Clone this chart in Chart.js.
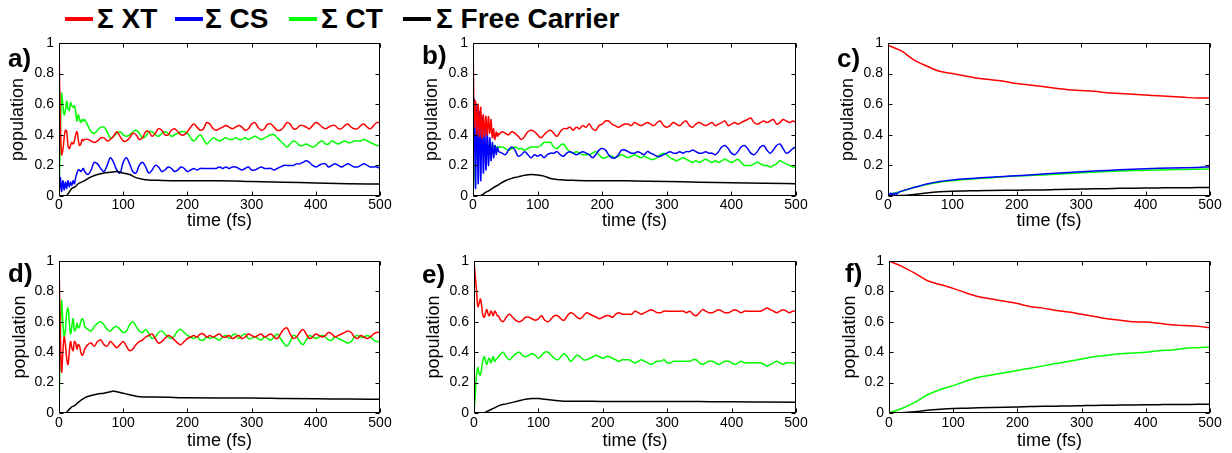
<!DOCTYPE html>
<html>
<head>
<meta charset="utf-8">
<script src="https://cdn.jsdelivr.net/npm/chart.js@4.4.1/dist/chart.umd.min.js"></script>
<style>
  html, body { margin: 0; padding: 0; background: #fff; }
  body { width: 1232px; height: 453px; position: relative; overflow: hidden;
         font-family: "Liberation Sans", Arial, Helvetica, sans-serif; }
  canvas { position: absolute; }
  .key-line { position: absolute; height: 4px; }
  .key-text { position: absolute; font-weight: bold; font-size: 28px; line-height: 28px;
              color: #000; white-space: nowrap; }
  .panel-tag { position: absolute; font-weight: bold; font-size: 26px; line-height: 26px; color: #000; }
</style>
</head>
<body>
<script>
// ---------------- series names / colours ----------------
const seriesNames  = ['\u03A3 XT', '\u03A3 CS', '\u03A3 CT', '\u03A3 Free Carrier'];
const seriesColors = ['#ff0000', '#0000ff', '#00ff00', '#000000'];

// ---------------- axis ticks ----------------
const timeTicks = [0, 100, 200, 300, 400, 500];
const popTicks  = [0, 0.2, 0.4, 0.6, 0.8, 1];

// ---------------- time grids (fs) ----------------
const timeA = [
  0,2,4,6,8,10,12,14,16,18,20,
  22,24,26,28,30,32,34,36,38,40,
  45,50,55,60,65,70,75,80,85,90,
  95,100,105,110,115,120,125,130,135,140,
  145,150,155,160,165,170,175,180,185,190,
  195,200,205,210,215,220,225,230,235,240,
  245,250,255,260,265,270,275,280,285,290,
  295,300,305,310,315,320,325,330,335,340,
  345,350,355,360,365,370,375,380,385,390,
  395,400,405,410,415,420,425,430,435,440,
  445,450,455,460,465,470,475,480,485,490,
  495,500];

const timeB = [
  0,1,2,3,4,5,6,7,8,9,10,
  11,12,13,14,15,16,17,18,19,20,
  21,22,23,24,25,26,27,28,29,30,
  31,32,33,34,35,36,37,38,39,40,
  45,50,55,60,65,70,75,80,85,90,
  95,100,105,110,115,120,125,130,135,140,
  145,150,155,160,165,170,175,180,185,190,
  195,200,205,210,215,220,225,230,235,240,
  245,250,255,260,265,270,275,280,285,290,
  295,300,305,310,315,320,325,330,335,340,
  345,350,355,360,365,370,375,380,385,390,
  395,400,405,410,415,420,425,430,435,440,
  445,450,455,460,465,470,475,480,485,490,
  495,500];

const timeC = [0,20,40,60,80,100,120,140,160,180,200,220,240,260,280,300,320,340,360,380,400,420,440,460,480,500];

// ---------------- panel a ----------------
const xtA = [
  1.0,0.5,0.27,0.30,0.38,0.43,0.42,0.33,0.31,0.33,0.35,
  0.34,0.36,0.40,0.42,0.37,0.33,0.34,0.37,0.36,0.37,
  0.37,0.36,0.35,0.36,0.38,0.38,0.36,0.37,0.39,0.42,
  0.39,0.36,0.36,0.38,0.41,0.40,0.37,0.38,0.42,0.42,
  0.39,0.41,0.44,0.43,0.40,0.40,0.43,0.44,0.42,0.40,
  0.40,0.42,0.45,0.47,0.45,0.43,0.44,0.48,0.47,0.44,
  0.43,0.44,0.45,0.46,0.45,0.44,0.45,0.46,0.45,0.43,
  0.44,0.47,0.48,0.45,0.43,0.44,0.47,0.47,0.45,0.43,
  0.43,0.45,0.48,0.47,0.44,0.44,0.46,0.46,0.45,0.44,
  0.46,0.48,0.47,0.45,0.44,0.45,0.46,0.46,0.44,0.44,
  0.46,0.47,0.45,0.44,0.44,0.46,0.47,0.45,0.44,0.46,
  0.48,0.48];
const csA = [
  0.0,0.12,0.03,0.10,0.04,0.09,0.05,0.10,0.06,0.09,0.07,
  0.10,0.08,0.12,0.15,0.17,0.17,0.16,0.17,0.18,0.16,
  0.14,0.17,0.22,0.21,0.18,0.16,0.20,0.25,0.22,0.17,
  0.15,0.22,0.25,0.21,0.16,0.15,0.20,0.22,0.19,0.15,
  0.17,0.20,0.19,0.16,0.17,0.19,0.18,0.16,0.17,0.19,
  0.18,0.16,0.17,0.18,0.17,0.18,0.18,0.18,0.18,0.18,
  0.18,0.19,0.18,0.19,0.18,0.19,0.19,0.18,0.17,0.18,
  0.19,0.17,0.17,0.18,0.19,0.18,0.18,0.18,0.17,0.18,
  0.19,0.20,0.20,0.20,0.20,0.21,0.21,0.22,0.23,0.22,
  0.20,0.19,0.20,0.21,0.21,0.19,0.20,0.21,0.20,0.19,
  0.20,0.21,0.20,0.19,0.19,0.20,0.21,0.20,0.19,0.19,
  0.19,0.18];
const ctA = [
  0.0,0.35,0.67,0.60,0.53,0.56,0.62,0.57,0.56,0.61,0.59,
  0.58,0.59,0.55,0.49,0.53,0.50,0.48,0.50,0.49,0.50,
  0.46,0.42,0.41,0.43,0.45,0.45,0.42,0.38,0.39,0.41,
  0.42,0.40,0.39,0.40,0.42,0.43,0.41,0.38,0.39,0.42,
  0.42,0.40,0.39,0.41,0.42,0.41,0.39,0.40,0.41,0.42,
  0.42,0.41,0.38,0.36,0.38,0.40,0.37,0.34,0.36,0.38,
  0.37,0.36,0.37,0.38,0.37,0.37,0.38,0.37,0.37,0.38,
  0.37,0.38,0.39,0.38,0.37,0.38,0.39,0.40,0.40,0.38,
  0.36,0.34,0.32,0.34,0.36,0.35,0.33,0.33,0.34,0.33,
  0.32,0.33,0.35,0.36,0.34,0.34,0.36,0.35,0.34,0.35,
  0.36,0.35,0.35,0.36,0.36,0.36,0.37,0.36,0.35,0.34,
  0.33,0.33];
const fcTimeA = [0,10,15,20,25,30,40,50,60,70,80,90,100,110,120,130,140,150,175,200,250,300,350,400,450,500];
const fcA     = [0,0,0.02,0.05,0.06,0.08,0.10,0.125,0.14,0.15,0.155,0.16,0.15,0.14,0.12,0.11,0.105,0.103,0.10,0.10,0.10,0.095,0.09,0.085,0.08,0.078];

// ---------------- panel b ----------------
const xtB = [
  1.0,0.70,0.45,0.55,0.62,0.50,0.40,0.52,0.60,0.48,0.39,
  0.50,0.58,0.46,0.38,0.48,0.53,0.44,0.39,0.47,0.52,
  0.44,0.40,0.47,0.52,0.45,0.41,0.46,0.50,0.43,0.38,
  0.42,0.44,0.39,0.37,0.40,0.42,0.40,0.39,0.41,0.40,
  0.42,0.41,0.40,0.42,0.41,0.39,0.37,0.39,0.42,0.43,
  0.42,0.40,0.38,0.40,0.42,0.43,0.41,0.39,0.42,0.44,
  0.44,0.45,0.43,0.45,0.44,0.46,0.45,0.47,0.44,0.43,
  0.46,0.47,0.49,0.49,0.47,0.46,0.45,0.46,0.47,0.47,
  0.46,0.48,0.47,0.46,0.47,0.48,0.47,0.46,0.48,0.49,
  0.46,0.45,0.46,0.48,0.47,0.46,0.48,0.49,0.46,0.45,
  0.47,0.48,0.47,0.46,0.47,0.48,0.46,0.47,0.48,0.49,
  0.46,0.47,0.48,0.47,0.48,0.49,0.50,0.51,0.48,0.47,
  0.48,0.49,0.48,0.49,0.50,0.47,0.48,0.50,0.49,0.48,
  0.49,0.48];
const csB = [
  0.0,0.45,0.63,0.30,0.05,0.35,0.60,0.35,0.08,0.30,0.55,
  0.35,0.10,0.30,0.52,0.35,0.15,0.28,0.46,0.33,0.17,
  0.28,0.42,0.32,0.20,0.28,0.38,0.31,0.23,0.29,0.35,
  0.30,0.25,0.29,0.33,0.30,0.27,0.30,0.32,0.30,0.29,
  0.28,0.27,0.30,0.32,0.30,0.26,0.27,0.29,0.27,0.25,
  0.27,0.26,0.27,0.25,0.27,0.28,0.28,0.29,0.27,0.26,
  0.28,0.29,0.28,0.27,0.28,0.29,0.28,0.27,0.25,0.27,
  0.30,0.31,0.30,0.27,0.25,0.25,0.27,0.30,0.30,0.29,
  0.28,0.28,0.29,0.28,0.27,0.29,0.28,0.27,0.26,0.26,
  0.27,0.28,0.29,0.28,0.28,0.29,0.28,0.29,0.29,0.30,
  0.29,0.28,0.28,0.29,0.28,0.28,0.27,0.29,0.32,0.33,
  0.31,0.28,0.27,0.29,0.32,0.33,0.31,0.28,0.27,0.29,
  0.32,0.33,0.30,0.28,0.30,0.33,0.34,0.31,0.28,0.29,
  0.31,0.32];
const ctB = [
  0.0,0.08,0.15,0.20,0.24,0.27,0.29,0.30,0.31,0.31,0.32,
  0.32,0.32,0.33,0.32,0.33,0.33,0.32,0.33,0.33,0.32,
  0.33,0.32,0.33,0.33,0.32,0.33,0.33,0.32,0.33,0.33,
  0.32,0.33,0.33,0.32,0.31,0.32,0.32,0.31,0.32,0.32,
  0.32,0.31,0.30,0.31,0.32,0.31,0.31,0.30,0.31,0.32,
  0.32,0.32,0.33,0.35,0.35,0.35,0.32,0.31,0.33,0.34,
  0.31,0.29,0.28,0.29,0.28,0.27,0.27,0.27,0.28,0.29,
  0.27,0.25,0.25,0.26,0.26,0.25,0.26,0.27,0.26,0.25,
  0.26,0.27,0.26,0.25,0.26,0.25,0.24,0.24,0.25,0.27,
  0.28,0.27,0.25,0.24,0.23,0.24,0.25,0.24,0.23,0.22,
  0.23,0.22,0.23,0.24,0.23,0.22,0.23,0.22,0.23,0.24,
  0.23,0.22,0.23,0.24,0.22,0.20,0.20,0.20,0.21,0.22,
  0.21,0.20,0.20,0.19,0.20,0.21,0.23,0.22,0.21,0.20,
  0.19,0.19];
const fcTimeB = [0,10,15,20,25,30,40,50,60,70,80,90,100,110,120,130,140,150,175,200,225,250,300,350,400,450,500];
const fcB     = [0,0,0.01,0.025,0.035,0.05,0.075,0.10,0.115,0.125,0.135,0.14,0.138,0.13,0.115,0.108,0.105,0.103,0.10,0.10,0.10,0.098,0.095,0.09,0.087,0.083,0.08];

// ---------------- panel c ----------------
const xtC = [0.985,0.95,0.89,0.85,0.815,0.80,0.785,0.77,0.76,0.75,0.735,0.725,0.715,0.705,0.695,0.69,0.685,0.675,0.67,0.665,0.66,0.655,0.65,0.645,0.64,0.64];
const csTimeC = [0,2,4,6,8,10,12,14,16,20,40,60,80,100,120,140,160,180,200,240,280,320,360,400,440,480,500];
const csC     = [0.02,0.005,0.02,0.006,0.018,0.008,0.02,0.012,0.022,0.03,0.055,0.078,0.095,0.105,0.112,0.118,0.123,0.128,0.133,0.143,0.153,0.163,0.171,0.178,0.183,0.187,0.19];
const ctC = [0.01,0.03,0.055,0.075,0.09,0.10,0.108,0.115,0.12,0.125,0.13,0.134,0.138,0.142,0.147,0.152,0.156,0.16,0.163,0.166,0.168,0.17,0.172,0.174,0.175,0.176];
const fcC = [0,0.003,0.01,0.02,0.027,0.031,0.033,0.035,0.036,0.037,0.038,0.039,0.04,0.042,0.044,0.045,0.047,0.048,0.05,0.051,0.052,0.053,0.054,0.054,0.055,0.055];

// ---------------- panel d ----------------
const xtD = [
  1.0,0.55,0.27,0.40,0.50,0.45,0.36,0.32,0.40,0.47,0.43,
  0.41,0.47,0.46,0.42,0.45,0.44,0.40,0.38,0.39,0.42,
  0.45,0.46,0.44,0.47,0.48,0.45,0.44,0.47,0.45,0.43,
  0.45,0.47,0.44,0.41,0.42,0.45,0.47,0.48,0.50,0.51,
  0.52,0.49,0.46,0.47,0.49,0.51,0.50,0.48,0.46,0.45,
  0.47,0.49,0.50,0.51,0.50,0.52,0.52,0.50,0.51,0.50,
  0.51,0.52,0.50,0.50,0.51,0.49,0.50,0.51,0.49,0.50,
  0.52,0.51,0.50,0.51,0.52,0.50,0.51,0.52,0.50,0.49,
  0.52,0.55,0.56,0.52,0.49,0.50,0.53,0.55,0.52,0.49,
  0.50,0.52,0.51,0.50,0.51,0.53,0.52,0.50,0.51,0.52,
  0.53,0.54,0.53,0.50,0.49,0.51,0.50,0.49,0.50,0.52,
  0.53,0.53];
const ctD = [
  0.0,0.45,0.74,0.60,0.50,0.55,0.66,0.69,0.60,0.52,0.57,
  0.62,0.54,0.55,0.59,0.56,0.57,0.60,0.62,0.61,0.57,
  0.55,0.54,0.57,0.59,0.60,0.58,0.55,0.54,0.56,0.57,
  0.55,0.53,0.54,0.58,0.60,0.57,0.54,0.53,0.55,0.52,
  0.49,0.50,0.53,0.54,0.52,0.50,0.49,0.51,0.54,0.55,
  0.53,0.51,0.50,0.49,0.50,0.48,0.48,0.50,0.49,0.50,
  0.49,0.48,0.50,0.51,0.49,0.51,0.52,0.49,0.51,0.52,
  0.49,0.49,0.50,0.49,0.48,0.50,0.49,0.48,0.50,0.52,
  0.49,0.46,0.44,0.47,0.51,0.50,0.47,0.45,0.48,0.51,
  0.50,0.49,0.50,0.51,0.50,0.48,0.48,0.50,0.49,0.48,
  0.47,0.46,0.47,0.50,0.51,0.50,0.50,0.51,0.50,0.48,
  0.47,0.47];
const fcTimeD = [0,10,15,20,25,30,40,50,60,70,80,85,90,100,110,120,130,150,200,250,300,350,400,450,500];
const fcD     = [0,0,0.02,0.04,0.05,0.07,0.10,0.115,0.125,0.13,0.14,0.145,0.14,0.13,0.12,0.11,0.105,0.105,0.10,0.098,0.098,0.095,0.093,0.092,0.09];

// ---------------- panel e ----------------
const xtE = [
  1.0,0.90,0.80,0.70,0.72,0.75,0.70,0.64,0.63,0.66,0.68,
  0.65,0.64,0.67,0.66,0.64,0.67,0.66,0.64,0.64,0.62,
  0.60,0.63,0.65,0.63,0.61,0.60,0.61,0.63,0.63,0.62,
  0.61,0.62,0.64,0.61,0.60,0.62,0.64,0.64,0.62,0.61,
  0.64,0.66,0.65,0.63,0.62,0.64,0.66,0.65,0.64,0.63,
  0.62,0.63,0.64,0.64,0.63,0.65,0.66,0.65,0.65,0.65,
  0.65,0.67,0.66,0.65,0.66,0.67,0.68,0.67,0.66,0.66,
  0.67,0.67,0.67,0.67,0.67,0.67,0.67,0.66,0.67,0.65,
  0.64,0.66,0.68,0.67,0.66,0.66,0.67,0.68,0.67,0.66,
  0.66,0.67,0.68,0.67,0.66,0.67,0.67,0.67,0.67,0.67,
  0.67,0.68,0.69,0.68,0.67,0.66,0.67,0.68,0.67,0.66,
  0.67,0.67];
const ctE = [
  0.0,0.12,0.25,0.30,0.26,0.25,0.30,0.35,0.37,0.34,0.32,
  0.35,0.36,0.33,0.35,0.37,0.34,0.35,0.36,0.37,0.38,
  0.40,0.37,0.35,0.37,0.39,0.40,0.38,0.37,0.38,0.39,
  0.38,0.36,0.38,0.40,0.40,0.38,0.36,0.35,0.37,0.39,
  0.37,0.34,0.36,0.38,0.37,0.35,0.35,0.36,0.37,0.38,
  0.37,0.36,0.37,0.37,0.36,0.35,0.34,0.35,0.35,0.35,
  0.34,0.33,0.34,0.35,0.34,0.33,0.32,0.33,0.34,0.34,
  0.35,0.33,0.33,0.34,0.34,0.34,0.34,0.34,0.34,0.35,
  0.35,0.33,0.32,0.33,0.34,0.34,0.33,0.32,0.33,0.34,
  0.34,0.33,0.32,0.33,0.34,0.33,0.33,0.33,0.33,0.33,
  0.33,0.32,0.31,0.32,0.33,0.34,0.33,0.32,0.33,0.33,
  0.33,0.32];
const fcTimeE = [0,15,20,30,40,50,60,70,80,90,100,110,120,130,140,150,175,200,250,300,350,400,450,500];
const fcE     = [0,0,0.01,0.03,0.05,0.06,0.07,0.08,0.09,0.095,0.095,0.09,0.085,0.08,0.078,0.078,0.077,0.076,0.076,0.076,0.075,0.074,0.072,0.07];

// ---------------- panel f ----------------
const xtF = [1.0,0.965,0.92,0.87,0.845,0.82,0.79,0.765,0.75,0.735,0.72,0.70,0.69,0.675,0.665,0.65,0.635,0.62,0.61,0.60,0.598,0.59,0.58,0.575,0.57,0.56];
const ctF = [0.0,0.03,0.07,0.12,0.155,0.18,0.21,0.235,0.25,0.265,0.28,0.295,0.31,0.325,0.34,0.355,0.37,0.38,0.39,0.395,0.40,0.41,0.415,0.425,0.43,0.435];
const fcF = [0,0.002,0.008,0.018,0.025,0.03,0.032,0.034,0.036,0.038,0.04,0.042,0.044,0.045,0.046,0.048,0.05,0.051,0.052,0.053,0.054,0.055,0.056,0.056,0.057,0.057];

// ---------------- layout ----------------
const FONT = '"Liberation Sans", Arial, Helvetica, sans-serif';
const TICK_FONT = 14, TITLE_FONT = 18, TICK_LEN = 4;

// series index: 0 XT, 1 CS, 2 CT, 3 Free Carrier
const panels = [
  { tag: 'a)', tagPos: [8, 45],   canvas: [0, 25, 405, 215],   area: [59, 43, 380, 196],
    yTitleX: 18,  xTitleY: 221, xPad: 1,
    lines: [[timeA, xtA, 0, 'osc'], [timeA, csA, 1, 'osc'], [timeA, ctA, 2, 'osc'], [fcTimeA, fcA, 3, 'smooth']] },
  { tag: 'b)', tagPos: [422, 42], canvas: [410, 25, 410, 215], area: [473, 43, 796, 196],
    yTitleX: 432, xTitleY: 221, xPad: 1,
    lines: [[timeB, xtB, 0, 'osc'], [timeB, csB, 1, 'osc'], [timeB, ctB, 2, 'osc'], [fcTimeB, fcB, 3, 'smooth']] },
  { tag: 'c)', tagPos: [837, 45], canvas: [822, 25, 410, 215], area: [888, 43, 1210, 196],
    yTitleX: 848, xTitleY: 221, xPad: 1,
    lines: [[timeC, xtC, 0, 'smooth'], [csTimeC, csC, 1, 'osc'], [timeC, ctC, 2, 'smooth'], [timeC, fcC, 3, 'smooth']] },
  { tag: 'd)', tagPos: [8, 260],  canvas: [0, 245, 405, 208],  area: [59, 261, 380, 413],
    yTitleX: 20,  xTitleY: 441, xPad: 2,
    lines: [[timeA, xtD, 0, 'osc'], [timeA, ctD, 2, 'osc'], [fcTimeD, fcD, 3, 'smooth']] },
  { tag: 'e)', tagPos: [422, 261], canvas: [410, 245, 410, 208], area: [474, 261, 796, 413],
    yTitleX: 434, xTitleY: 441, xPad: 2,
    lines: [[timeA, xtE, 0, 'osc'], [timeA, ctE, 2, 'osc'], [fcTimeE, fcE, 3, 'smooth']] },
  { tag: 'f)', tagPos: [845, 260], canvas: [822, 245, 410, 208], area: [889, 261, 1210, 413],
    yTitleX: 850, xTitleY: 441, xPad: 2,
    lines: [[timeC, xtF, 0, 'smooth'], [timeC, ctF, 2, 'smooth'], [timeC, fcF, 3, 'smooth']] }
];

// box with inward ticks on all four sides
const framePlugin = {
  id: 'frame',
  afterDraw(chart) {
    const { ctx, chartArea: a, scales: { x, y } } = chart;
    const L = Math.round(a.left) + 0.5, R = Math.round(a.right) - 0.5;
    const T = Math.round(a.top) + 0.5, B = Math.round(a.bottom) - 0.5;
    ctx.save();
    ctx.strokeStyle = '#000';
    ctx.lineWidth = 1;
    ctx.strokeRect(L, T, R - L, B - T);
    ctx.beginPath();
    x.ticks.forEach(t => {
      const px = Math.round(x.getPixelForValue(t.value)) + 0.5;
      ctx.moveTo(px, B); ctx.lineTo(px, B - TICK_LEN);
      ctx.moveTo(px, T); ctx.lineTo(px, T + TICK_LEN);
    });
    y.ticks.forEach(t => {
      const py = Math.round(y.getPixelForValue(t.value)) + 0.5;
      ctx.moveTo(L, py); ctx.lineTo(L + TICK_LEN, py);
      ctx.moveTo(R, py); ctx.lineTo(R - TICK_LEN, py);
    });
    ctx.stroke();
    ctx.restore();
  }
};

// ---------------- key at the top ----------------
const keyLineX = [65, 175, 289, 403];
const keyTextX = [97, 205, 321, 436];
seriesNames.forEach((name, i) => {
  const ln = document.createElement('div');
  ln.className = 'key-line';
  Object.assign(ln.style, { left: keyLineX[i] + 'px', top: '17px', width: '28px', background: seriesColors[i] });
  document.body.appendChild(ln);
  const tx = document.createElement('div');
  tx.className = 'key-text';
  Object.assign(tx.style, { left: keyTextX[i] + 'px', top: '5px' });
  tx.textContent = name;
  document.body.appendChild(tx);
});

// ---------------- panels ----------------
const toPoints = (t, v) => v.map((val, i) => ({ x: t[i], y: val }));
// stacking weight per series (higher = drawn earlier, further back)
const drawOrder = [2, 3, 4, 1];
const lh = TITLE_FONT * 1.2;

panels.forEach(p => {
  const [cx, cy, cw, ch] = p.canvas;
  const [al, at, ar, ab] = p.area;
  const cv = document.createElement('canvas');
  cv.width = cw; cv.height = ch;
  Object.assign(cv.style, { left: cx + 'px', top: cy + 'px', width: cw + 'px', height: ch + 'px' });
  document.body.appendChild(cv);

  const tag = document.createElement('div');
  tag.className = 'panel-tag';
  tag.textContent = p.tag;
  Object.assign(tag.style, { left: p.tagPos[0] + 'px', top: p.tagPos[1] + 'px' });
  document.body.appendChild(tag);

  const yAxisW = al - cx;
  const xAxisH = (p.xTitleY + lh / 2) - ab;
  const padBottom = (cy + ch) - (ab + xAxisH);

  const datasets = p.lines.map(([t, v, k, kind]) => ({
    label: seriesNames[k],
    data: toPoints(t, v),
    borderColor: seriesColors[k],
    backgroundColor: seriesColors[k],
    borderWidth: 1.5,
    pointRadius: 0,
    fill: false,
    order: drawOrder[k],
    tension: kind === 'osc' ? 0.4 : 0,
    cubicInterpolationMode: kind === 'smooth' ? 'monotone' : 'default'
  }));

  new Chart(cv, {
    type: 'line',
    data: { datasets },
    plugins: [framePlugin],
    options: {
      responsive: false,
      animation: false,
      devicePixelRatio: 1,
      events: [],
      layout: { padding: { left: 0, top: at - cy, right: (cx + cw) - ar, bottom: padBottom } },
      plugins: { legend: { display: false }, tooltip: { enabled: false } },
      scales: {
        x: {
          type: 'linear', min: 0, max: 500,
          afterBuildTicks: s => { s.ticks = timeTicks.map(v => ({ value: v })); },
          afterFit: s => { s.height = xAxisH; },
          grid: { display: false, drawTicks: false },
          border: { display: false },
          ticks: { color: '#000', font: { family: FONT, size: TICK_FONT }, padding: p.xPad,
                   maxRotation: 0, autoSkip: false, callback: v => String(v) },
          title: { display: true, text: 'time (fs)', color: '#000',
                   font: { family: FONT, size: TITLE_FONT }, padding: { top: 0, bottom: 0 } }
        },
        y: {
          type: 'linear', min: 0, max: 1,
          afterBuildTicks: s => { s.ticks = popTicks.map(v => ({ value: v })); },
          afterFit: s => { s.width = yAxisW; },
          grid: { display: false, drawTicks: false },
          border: { display: false },
          ticks: { color: '#000', font: { family: FONT, size: TICK_FONT }, padding: 5,
                   autoSkip: false, callback: v => String(Math.round(v * 10) / 10) },
          title: { display: true, text: 'population', color: '#000',
                   font: { family: FONT, size: TITLE_FONT },
                   padding: { top: p.yTitleX - cx - lh / 2, bottom: 0 } }
        }
      }
    }
  });
});
</script>
</body>
</html>
